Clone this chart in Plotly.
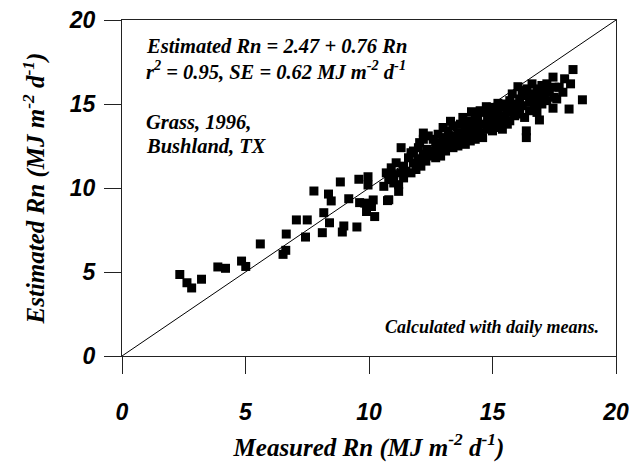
import plotly.graph_objects as go

# Daily means of net radiation over grass, Bushland TX, 1996 (MJ m-2 d-1)
measured = [
    2.34, 2.63, 2.82, 3.22, 3.88, 4.19, 4.84, 5.01, 5.60, 6.52,
    6.63, 6.65, 7.06, 7.43, 7.50, 7.77, 8.11, 8.17, 8.36, 8.40,
    8.47, 8.84, 8.92, 8.98, 9.18, 9.51, 9.59, 9.62,
    9.83, 9.96, 9.96, 10.17, 10.10, 10.23, 9.90, 10.75,
    10.6, 10.7, 10.8, 10.8, 10.9, 11.0, 11.0, 11.1, 11.2, 11.2,
    11.3, 11.3, 11.4, 11.4, 11.5,
    11.6, 11.7, 11.8, 11.8, 11.9, 12.0, 12.0, 12.1, 12.2, 12.2,
    12.3, 12.4, 12.4, 12.5, 11.7, 12.05, 12.2, 12.35,
    12.6, 12.6, 12.7, 12.7, 12.8, 12.8, 12.9, 12.9, 13.0, 13.0, 13.0,
    13.1, 13.1, 13.2, 13.3, 13.3, 13.3, 13.4, 13.4, 13.5, 13.5,
    13.6, 13.6, 13.7, 13.7, 13.8, 13.8, 13.9, 13.9, 14.0, 14.0, 14.15,
    14.1, 14.1, 14.2, 14.2, 14.3, 14.3, 14.4, 14.4, 14.5, 14.5,
    14.6, 14.6, 14.7, 14.75, 14.8, 14.8, 14.9, 14.9, 15.0, 15.0,
    15.1, 15.1, 15.2, 15.22, 15.3, 15.3, 15.4, 15.4, 15.5, 15.5,
    15.6, 15.6, 15.7, 15.7, 15.8, 15.8, 15.9, 15.9, 16.03, 16.0,
    16.1, 16.1, 16.2, 16.2, 16.3, 16.3, 16.37, 16.37, 16.4, 16.5, 16.5,
    16.6, 16.6, 16.7, 16.7, 16.8, 16.8, 16.9, 16.9, 17.0, 17.0,
    17.1, 17.1, 17.2, 17.2, 17.3, 17.45, 17.45, 17.5, 17.5,
    17.6, 17.7, 17.85, 17.92, 18.16, 18.26, 18.64, 18.1,
]
estimated = [
    4.85, 4.36, 4.05, 4.57, 5.30, 5.22, 5.65, 5.33, 6.67, 6.05,
    6.29, 7.26, 8.10, 7.08, 8.10, 9.82, 7.34, 8.53, 9.64, 7.93,
    9.23, 10.36, 7.38, 7.74, 9.36, 7.68, 10.52, 9.13,
    9.10, 10.67, 10.18, 9.29, 8.90, 8.30, 8.60, 9.25,
    10.1, 10.9, 10.5, 9.3, 11.2, 10.3, 10.8, 11.5, 9.8, 10.2,
    10.9, 12.4, 10.6, 11.3, 11.0,
    11.8, 10.9, 11.5, 12.2, 11.1, 11.7, 12.4, 11.3, 12.0, 12.9,
    11.6, 12.2, 13.1, 11.9, 12.1, 12.7, 13.27, 12.3,
    12.1, 12.9, 11.8, 12.5, 13.2, 12.2, 12.7, 11.9, 13.0, 12.4, 13.6,
    12.2, 12.8, 13.4, 13.97, 12.6, 13.1, 12.4, 13.7, 13.0, 12.7,
    13.3, 12.5, 13.8, 12.9, 13.2, 14.2, 12.6, 13.6, 13.1, 14.0, 14.54,
    13.4, 12.8, 13.9, 13.2, 14.3, 12.9, 13.6, 14.1, 13.3, 14.6,
    13.0, 13.8, 14.5, 14.84, 13.5, 14.1, 13.8, 14.4, 13.4, 14.8,
    14.1, 13.6, 14.6, 15.04, 13.9, 14.3, 14.8, 13.5, 14.2, 15.0,
    14.5, 13.8, 15.2, 14.0, 14.7, 15.6, 14.3, 15.0, 16.03, 14.6,
    15.3, 14.4, 15.8, 14.9, 15.5, 14.2, 13.0, 13.4, 15.9, 15.1, 14.6,
    15.6, 16.2, 14.8, 15.3, 15.9, 14.5, 15.4, 14.05, 16.1, 15.0,
    15.5, 15.9, 16.2, 15.2, 15.7, 16.6, 14.75, 15.4, 16.0,
    15.3, 16.0, 15.7, 16.5, 16.2, 17.05, 15.25, 14.7,
]

one_to_one = [0, 20]

serif = "Liberation Serif, Times New Roman, serif"
sans = "Liberation Sans, Arial, sans-serif"

fig = go.Figure()

fig.add_trace(go.Scatter(
    x=one_to_one, y=one_to_one, mode="lines",
    line=dict(color="black", width=1), hoverinfo="skip", showlegend=False,
))

fig.add_trace(go.Scatter(
    x=measured, y=estimated, mode="markers",
    marker=dict(symbol="square", size=9, color="black", line=dict(width=0)),
    showlegend=False,
))

big_text = dict(family=serif, size=20.5, color="black", weight="bold", style="italic")
small_text = dict(family=serif, size=18, color="black", weight="bold", style="italic")

annotations = [
    dict(x=0.89, y=18.45, text="Estimated Rn = 2.47 + 0.76 Rn", xanchor="left", font=big_text),
    dict(x=0.89, y=17.0,
         text="r<sup>2</sup> = 0.95, SE = 0.62 MJ m<sup>-2</sup> d<sup>-1</sup>",
         xanchor="left", font=big_text),
    dict(x=0.89, y=13.9, text="Grass, 1996,", xanchor="left", font=big_text),
    dict(x=0.89, y=12.5, text="Bushland, TX", xanchor="left", font=big_text),
    dict(x=19.4, y=1.73, text="Calculated with daily means.", xanchor="right", font=small_text),
]
for a in annotations:
    fig.add_annotation(xref="x", yref="y", showarrow=False, yanchor="middle", **a)

title_font = dict(family=serif, size=25, color="black", weight="bold", style="italic")

axis_common = dict(
    range=[0, 20], dtick=5, tick0=0,
    showgrid=False, zeroline=False,
    showline=True, linecolor="#222", linewidth=1.3, mirror=True,
    ticks="outside", ticklen=17, tickwidth=1.3, tickcolor="#222",
    ticklabeloverflow="allow", automargin=False,
    tickfont=dict(family=sans, size=23, color="black", weight="bold", style="italic"),
)

fig.update_xaxes(
    **axis_common,
    ticklabelstandoff=18,
    title=dict(text="Measured Rn (MJ m<sup>-2</sup> d<sup>-1</sup>)",
               font=title_font, standoff=14),
)
fig.update_yaxes(
    **axis_common,
    ticklabelstandoff=4,
    title=dict(text="Estimated Rn (MJ m<sup>-2</sup> d<sup>-1</sup>)",
               font=title_font, standoff=16),
)

fig.update_layout(
    width=629, height=466,
    margin=dict(l=122, r=13, t=20, b=110, autoexpand=False),
    plot_bgcolor="white", paper_bgcolor="white",
)

fig.write_html("out.html")
